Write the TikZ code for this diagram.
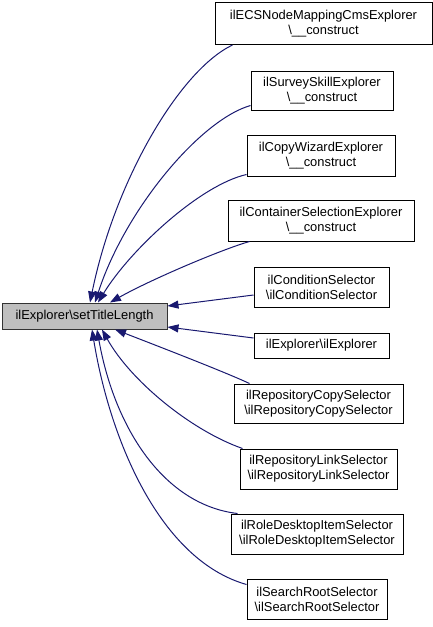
\documentclass[tikz,border=0pt]{standalone}
\usepackage{fontspec}
\setmainfont{Liberation Sans}
\usetikzlibrary{arrows.meta}
\definecolor{edgecol}{HTML}{191970}
\definecolor{mainfill}{HTML}{BFBFBF}
\tikzset{
  box/.style={draw=black, line width=1pt, fill=white, inner sep=0pt, align=center,
    font=\fontsize{12.9}{15}\selectfont},
  mainbox/.style={box, fill=mainfill, draw=black!80},
  edge/.style={draw=edgecol, line width=1pt, {Triangle[length=11pt,width=8pt]}-}
}
\begin{document}
\begin{tikzpicture}[x=1pt,y=-1pt]
\useasboundingbox (0,0) rectangle (433,627);
\node[mainbox, minimum width=165pt, minimum height=26pt] (main) at (84.5,316) {ilExplorer\textbackslash setTitleLength};
\node[box, minimum width=217pt, minimum height=42pt] (b1) at (323.5,23.5) {ilECSNodeMappingCmsExplorer\\\textbackslash\_\_construct};
\node[box, minimum width=142pt, minimum height=39pt] (b2) at (322,90.5) {ilSurveySkillExplorer\\\textbackslash\_\_construct};
\node[box, minimum width=148pt, minimum height=41pt] (b3) at (321,155.5) {ilCopyWizardExplorer\\\textbackslash\_\_construct};
\node[box, minimum width=186pt, minimum height=41pt] (b4) at (321,220.5) {ilContainerSelectionExplorer\\\textbackslash\_\_construct};
\node[box, minimum width=135pt, minimum height=40pt] (b5) at (321.5,287) {ilConditionSelector\\\textbackslash ilConditionSelector};
\node[box, minimum width=135pt, minimum height=25pt] (b6) at (321.5,345.5) {ilExplorer\textbackslash ilExplorer};
\node[box, minimum width=169pt, minimum height=39pt] (b7) at (318.5,403.5) {ilRepositoryCopySelector\\\textbackslash ilRepositoryCopySelector};
\node[box, minimum width=157pt, minimum height=40pt] (b8) at (318.5,469) {ilRepositoryLinkSelector\\\textbackslash ilRepositoryLinkSelector};
\node[box, minimum width=172pt, minimum height=40pt] (b9) at (317,534) {ilRoleDesktopItemSelector\\\textbackslash ilRoleDesktopItemSelector};
\node[box, minimum width=140pt, minimum height=40pt] (b10) at (317,599) {ilSearchRootSelector\\\textbackslash ilSearchRootSelector};

\draw[edge] ([xshift=5.5pt]main.north) .. controls (115,180) and (180,70) .. ([xshift=18pt]b1.south west);
\draw[edge] ([xshift=10.5pt]main.north) .. controls (125,210) and (200,120) .. ([yshift=5pt]b2.south west);
\draw[edge] ([xshift=13.5pt]main.north) .. controls (130,250) and (200,185) .. ([yshift=2pt]b3.south west);
\draw[edge] ([xshift=25.5pt]main.north) .. controls (150,280) and (220,250) .. ([xshift=22pt]b4.south west);
\draw[edge] ([yshift=10pt]main.east) -- ([yshift=-8pt]b5.west);
\draw[edge] ([yshift=-11pt]main.east) -- ([yshift=7.5pt]b6.west);
\draw[edge] ([xshift=30.5pt]main.south) .. controls (155,345) and (225,372) .. ([xshift=16pt]b7.north west);
\draw[edge] ([xshift=17.5pt]main.south) .. controls (130,380) and (190,430) .. ([xshift=3pt]b8.north west);
\draw[edge] ([xshift=12.5pt]main.south) .. controls (115,430) and (165,505) .. ([xshift=7pt]b9.north west);
\draw[edge] ([xshift=7.5pt]main.south) .. controls (110,440) and (160,560) .. ([yshift=-6pt]b10.north west);
\end{tikzpicture}
\end{document}
